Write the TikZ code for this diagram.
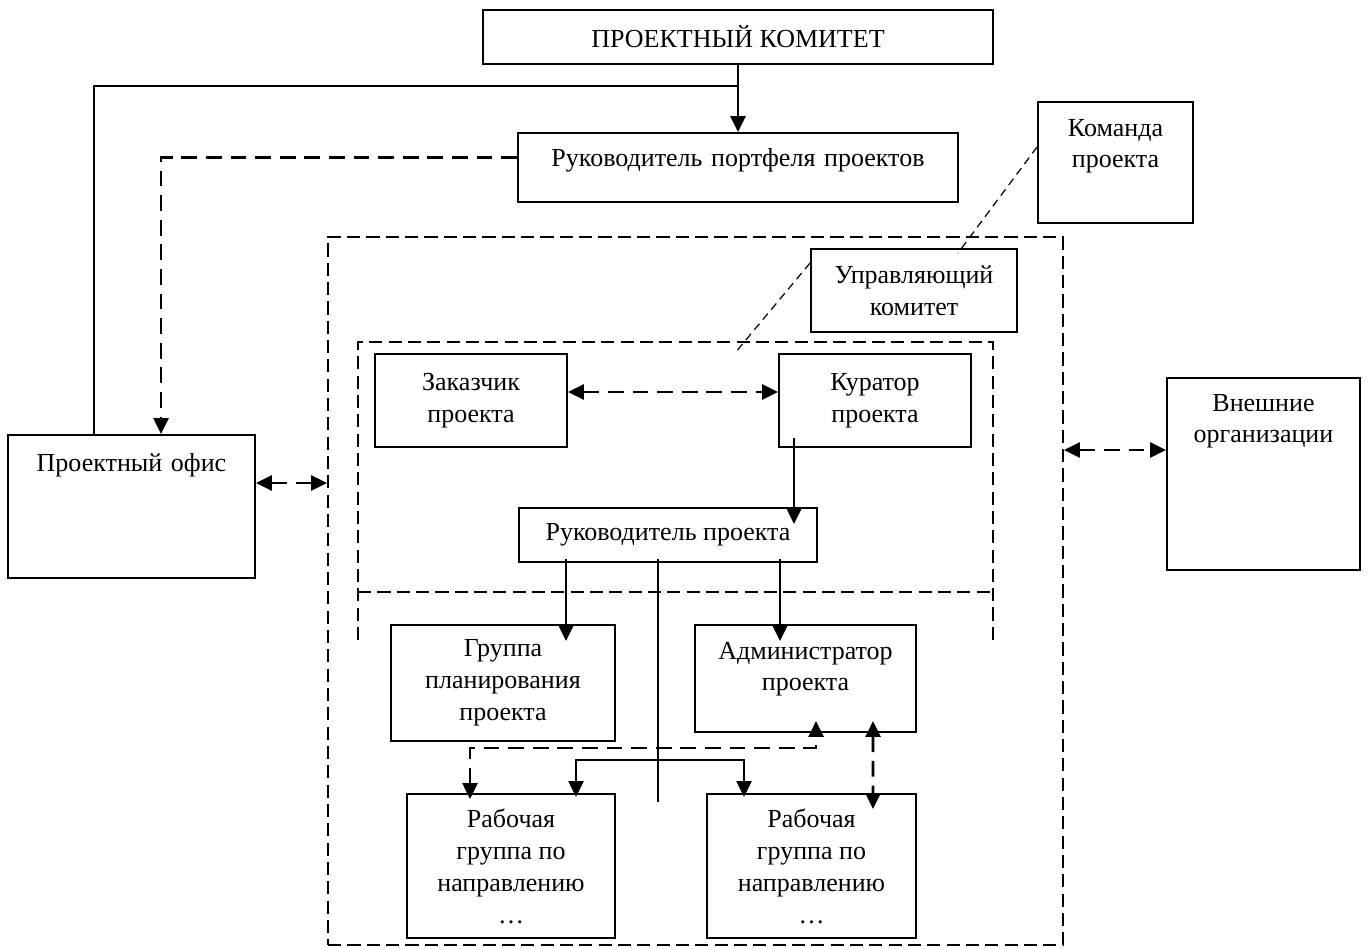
\documentclass[tikz,border=0pt]{standalone}
\usepackage{fontspec}
\setmainfont{Liberation Serif}
\usetikzlibrary{arrows.meta,calc}

\tikzstyle{orgbox} = [draw, rectangle, line width=1.1pt, fill=white, align=center, inner sep=0pt]
\tikzset{
   topbox/.style n args={3}{orgbox, text width=#1, text height=#2, text depth=#3},
}
\tikzstyle{frame} = [draw, line width=1.1pt, dash pattern=on 7.5pt off 3.5pt]
\tikzstyle{link} = [line width=1.3pt]
\tikzstyle{arrow} = [line width=1.5pt, -{Triangle[length=0.32cm,width=0.3cm]}]
\tikzstyle{twoarrow} = [line width=1.5pt, {Triangle[length=0.32cm,width=0.3cm]}-{Triangle[length=0.32cm,width=0.3cm]}]
\tikzstyle{darrow} = [line width=1.5pt, dash pattern=on 9pt off 5pt, -{Triangle[length=0.32cm,width=0.3cm]}]
\tikzstyle{ddarrow} = [line width=1.5pt, dash pattern=on 9pt off 5pt, {Triangle[length=0.32cm,width=0.3cm]}-{Triangle[length=0.32cm,width=0.3cm]}]
\tikzstyle{pointer} = [line width=0.7pt, dash pattern=on 4.5pt off 3pt]

\begin{document}
\begin{tikzpicture}[font=\fontsize{14.8}{18.2}\selectfont]
\useasboundingbox (0,0) rectangle (27.42,-18.98);

% frames
\node[frame, minimum width=14.7cm, minimum height=14.16cm, inner sep=0pt] (outer) at (13.91,-11.82) {};
\draw[frame] (7.16,-12.80) -- (7.16,-6.84) -- (19.86,-6.84) -- (19.86,-12.80);
\draw[frame] (7.16,-11.84) -- (19.86,-11.84);

% boxes
\node[orgbox, minimum width=10.2cm, minimum height=1.08cm] (komitet) at (14.76,-0.74) {ПРОЕКТНЫЙ КОМИТЕТ};
\node[topbox={8.8cm}{0.66cm}{0.72cm}] (portfel) at (14.76,-3.35) {Руководитель портфеля проектов};
\node[topbox={4.94cm}{0.72cm}{2.14cm}] (ofis) at (2.63,-10.13) {Проектный офис};
\node[topbox={3.10cm}{0.68cm}{1.74cm}] (komanda) at (22.31,-3.25) {Команда\\проекта};
\node[orgbox, minimum width=4.12cm, minimum height=1.66cm] (upr) at (18.28,-5.81) {Управляющий\\комитет};
\node[orgbox, minimum width=3.84cm, minimum height=1.86cm] (zak) at (9.42,-8.01) {Заказчик\\проекта};
\node[orgbox, minimum width=3.84cm, minimum height=1.86cm] (kur) at (17.50,-8.01) {Куратор\\проекта};
\node[orgbox, minimum width=5.96cm, minimum height=1.08cm] (rp) at (13.36,-10.70) {Руководитель проекта};
\node[orgbox, minimum width=4.48cm, minimum height=2.32cm] (grp) at (10.06,-13.66) {Группа\\планирования\\проекта};
\node[topbox={4.42cm}{0.68cm}{1.46cm}] (adm) at (16.11,-13.57) {Администратор\\проекта};
\node[orgbox, minimum width=4.16cm, minimum height=2.88cm] (rab1) at (10.22,-17.32) {Рабочая\\группа по\\направлению\\…};
\node[orgbox, minimum width=4.18cm, minimum height=2.88cm] (rab2) at (16.23,-17.32) {Рабочая\\группа по\\направлению\\…};
\node[topbox={3.86cm}{0.66cm}{3.18cm}] (vnesh) at (25.27,-9.48) {Внешние\\организации};

% top part
\coordinate (split) at (14.76,-1.72);
\draw[arrow] (komitet) -- (portfel);
\draw[link] (split) -| ([xshift=1.74cm]ofis.north west);
\draw[darrow] ([yshift=0.2cm]portfel.west) -| ([xshift=3.08cm]ofis.north west);
\coordinate (o1) at ([yshift=0.47cm]ofis.east);
\draw[ddarrow] (o1) -- (o1 -| outer.west);
\coordinate (v1) at ([yshift=0.48cm]vnesh.west);
\draw[ddarrow] (v1 -| outer.east) -- (v1);

% pointers of the groups
\coordinate (pA) at (19.16,-5.06);
\coordinate (pB) at (14.70,-7.06);
\draw[pointer] ([yshift=0.31cm]komanda.west) -- (pA);
\draw[pointer] ([yshift=0.55cm]upr.west) -- (pB);

% inside the project
\draw[ddarrow] ([yshift=0.17cm]zak.east) -- ([yshift=0.17cm]kur.west);
\coordinate (k1) at ([xshift=0.32cm,yshift=0.2cm]kur.south west);
\draw[arrow, shorten >=-0.34cm] (k1) -- (k1 |- rp.north);
\coordinate (r1) at ([xshift=0.96cm,yshift=0.08cm]rp.south west);
\coordinate (r2) at ([xshift=-0.76cm,yshift=0.08cm]rp.south east);
\coordinate (r3) at ([xshift=2.80cm,yshift=0.08cm]rp.south west);
\coordinate (rend) at (13.18,-16.04);
\coordinate (bus) at (13.18,-15.20);
\coordinate (dbus) at (13.18,-14.96);
\draw[arrow, shorten >=-0.34cm] (r1) -- (r1 |- grp.north);
\draw[arrow, shorten >=-0.34cm] (r2) -- (r2 |- adm.north);
\draw[line width=1.1pt] (r3) -- (r3 |- rend);
\draw[twoarrow] ([xshift=3.40cm,yshift=-0.08cm]rab1.north west) |- (bus) -| ([xshift=0.76cm,yshift=-0.08cm]rab2.north west);
\draw[ddarrow] ([xshift=1.28cm,yshift=-0.12cm]rab1.north west) |- (dbus) -| ([xshift=2.44cm,yshift=0.24cm]adm.south west);
\draw[ddarrow] ([xshift=3.58cm,yshift=0.24cm]adm.south west) -- ([xshift=3.34cm,yshift=-0.32cm]rab2.north west);
\end{tikzpicture}
\end{document}
